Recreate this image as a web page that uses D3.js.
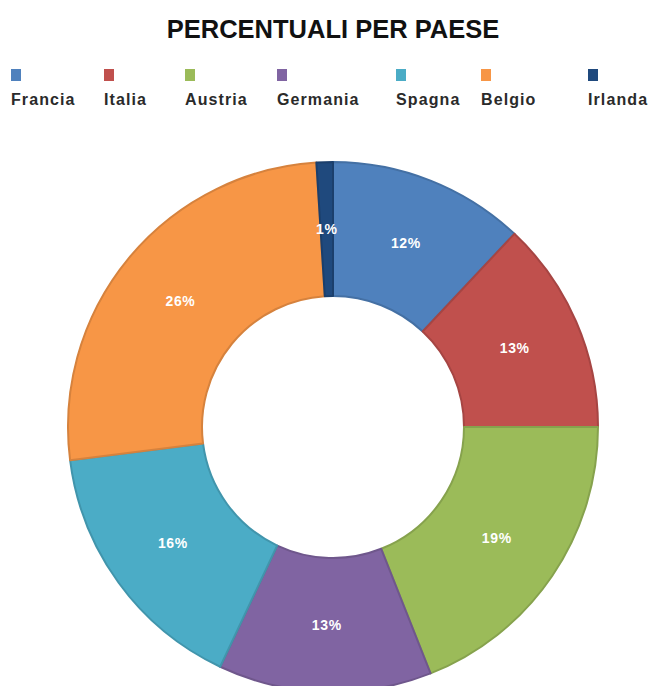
<!DOCTYPE html>
<html>
<head>
<meta charset="utf-8">
<script src="https://cdn.jsdelivr.net/npm/d3@7"></script>
<style>
  html, body { margin: 0; padding: 0; background: #ffffff; }
  svg { display: block; }
</style>
</head>
<body>
<svg id="chart" width="651" height="686"></svg>
<script>
// Share of total per country (percent), drawn clockwise from 12 o'clock
const countries = ["Francia", "Italia", "Austria", "Germania", "Spagna", "Belgio", "Irlanda"];
const shares = [12, 13, 19, 13, 16, 26, 1];
const colors = ["#4f81bd", "#c0504d", "#9bbb59", "#8064a2", "#4bacc6", "#f79646", "#1f497d"];
const title = "PERCENTUALI PER PAESE";

// Legend layout: left edge of each entry
const legendLeft = [11, 104, 185, 277, 396, 481, 588];

const cx = 333, cy = 427;
const outerR = 265, innerR = 131;

const svg = d3.select("#chart");

svg.append("text")
  .attr("x", 333)
  .attr("y", 38)
  .attr("text-anchor", "middle")
  .attr("font-family", "'Liberation Sans', Arial, sans-serif")
  .attr("font-weight", "bold")
  .attr("font-size", 25.5)
  .attr("fill", "#111")
  .text(title);

// Legend
const legend = svg.append("g");
countries.forEach((name, i) => {
  const g = legend.append("g").attr("transform", `translate(${legendLeft[i]},0)`);
  g.append("rect")
    .attr("x", 0).attr("y", 69)
    .attr("width", 10).attr("height", 12)
    .attr("fill", colors[i]);
  g.append("text")
    .attr("x", 0).attr("y", 105)
    .attr("font-family", "'Liberation Sans', Arial, sans-serif")
    .attr("font-weight", "bold")
    .attr("font-size", 16)
    .attr("letter-spacing", 1.1)
    .attr("fill", "#2a2a2a")
    .text(name);
});

// Donut
const data = countries.map((c, i) => ({ name: c, value: shares[i], color: colors[i] }));
const pie = d3.pie().value(d => d.value).sort(null);
const arc = d3.arc().innerRadius(innerR).outerRadius(outerR);
const labelArc = d3.arc().innerRadius((innerR + outerR) / 2).outerRadius((innerR + outerR) / 2);

const donut = svg.append("g").attr("transform", `translate(${cx},${cy})`);

const arcs = pie(data);

donut.selectAll("path.slice")
  .data(arcs)
  .join("path")
  .attr("class", "slice")
  .attr("d", arc)
  .attr("fill", d => d.data.color)
  .attr("stroke", d => d3.color(d.data.color).darker(0.4))
  .attr("stroke-width", 2)
  .attr("stroke-linejoin", "round");

donut.selectAll("text.value")
  .data(arcs)
  .join("text")
  .attr("class", "value")
  .attr("transform", d => `translate(${labelArc.centroid(d)})`)
  .attr("text-anchor", "middle")
  .attr("dy", "0.35em")
  .attr("font-family", "'Liberation Sans', Arial, sans-serif")
  .attr("font-weight", "bold")
  .attr("font-size", 14)
  .attr("letter-spacing", 0.6)
  .attr("fill", "#ffffff")
  .text(d => d.data.value + "%");
</script>
</body>
</html>
